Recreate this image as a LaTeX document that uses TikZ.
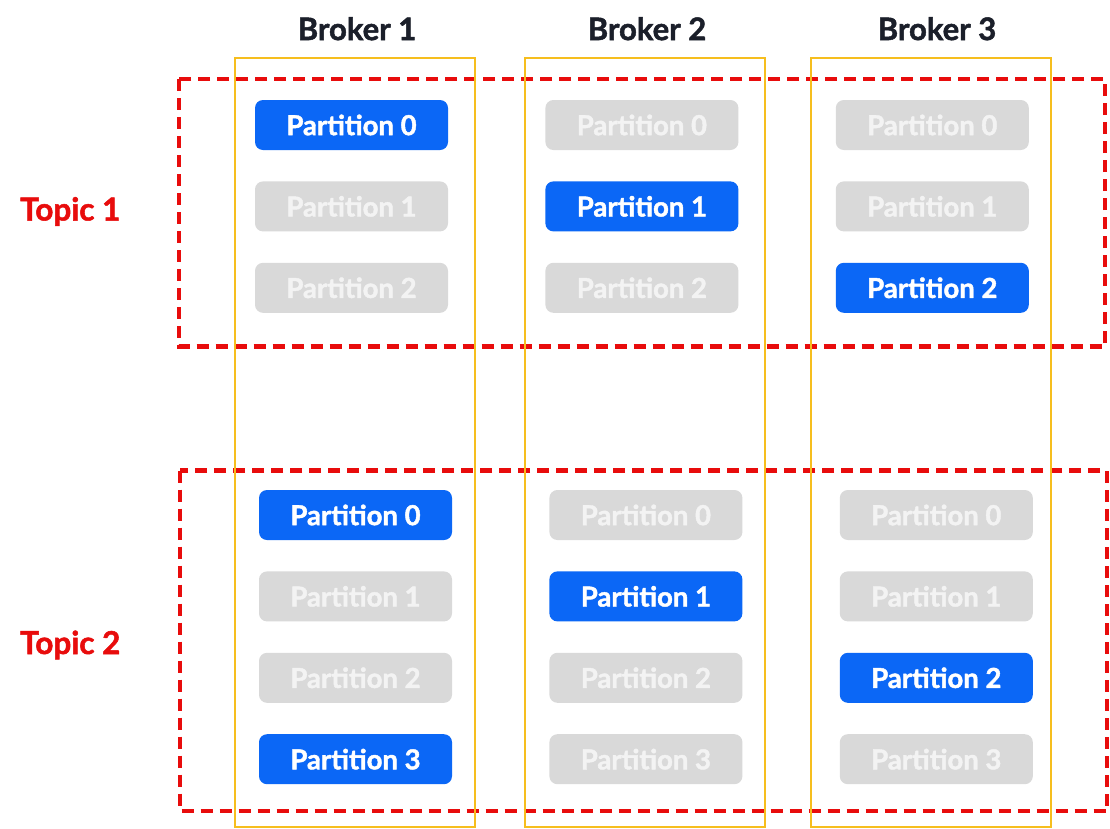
\documentclass[tikz,border=0pt]{standalone}
\usepackage{fontspec}
\setmainfont{Lato}[BoldFeatures={FakeBold=1.6}]
\usepackage{tikz}
\usetikzlibrary{positioning}

\definecolor{leadblue}{RGB}{11,103,246}
\definecolor{idlegrey}{RGB}{217,217,217}
\definecolor{idletext}{RGB}{243,243,243}
\definecolor{topicred}{RGB}{232,12,12}
\definecolor{brokeryellow}{RGB}{246,190,30}
\definecolor{titledark}{RGB}{27,31,42}

\begin{document}
\begin{tikzpicture}[x=1pt,y=-1pt,node distance=31pt and 97pt,
  part/.style={rounded corners=8pt,minimum width=193pt,minimum height=50pt,
    inner sep=0pt,font=\bfseries\fontsize{27.5}{27.5}\selectfont},
  lead/.style={part,fill=leadblue,text=white},
  idle/.style={part,fill=idlegrey,text=idletext},
  broker/.style={draw=brokeryellow,line width=2pt,minimum width=240pt,
    minimum height=769pt,inner sep=0pt},
  topicbox/.style={draw=topicred,line width=4.5pt,dash pattern=on 12pt off 7pt},
  brokertitle/.style={inner sep=0pt,text=titledark,
    font=\bfseries\fontsize{31}{31}\selectfont},
  topictitle/.style={inner sep=0pt,anchor=base west,text=topicred,
    font=\bfseries\fontsize{31.5}{31.5}\selectfont}]
  \useasboundingbox[fill=white] (0,0) rectangle (1110,828);

  % topics
  \draw[topicbox] (179,79) rectangle (1105,346.5);
  \draw[topicbox] (180,470.5) rectangle (1107,811);
  \node[topictitle] (topic1) at (20,220.5) {Topic 1};
  \node[topictitle] (topic2) at (20,654) {Topic 2};

  % brokers
  \node[broker] (broker1) at (355,442) {};
  \node[broker] (broker2) at (645,442) {};
  \node[broker] (broker3) at (931,442) {};
  \node[brokertitle,above=16pt of broker1,xshift=2pt] (title1) {Broker 1};
  \node[brokertitle,above=16pt of broker2,xshift=2pt] (title2) {Broker 2};
  \node[brokertitle,above=16pt of broker3,xshift=6pt] (title3) {Broker 3};

  % topic 1 partitions
  \node[lead] (a10) at (351.5,125) {Partition 0};
  \node[idle,below=of a10] (a11) {Partition 1};
  \node[idle,below=of a11] (a12) {Partition 2};
  \node[idle,right=of a10] (a20) {Partition 0};
  \node[lead,below=of a20] (a21) {Partition 1};
  \node[idle,below=of a21] (a22) {Partition 2};
  \node[idle,right=of a20] (a30) {Partition 0};
  \node[idle,below=of a30] (a31) {Partition 1};
  \node[lead,below=of a31] (a32) {Partition 2};

  % topic 2 partitions
  \node[lead] (b10) at (355.5,515) {Partition 0};
  \node[idle,below=of b10] (b11) {Partition 1};
  \node[idle,below=of b11] (b12) {Partition 2};
  \node[lead,below=of b12] (b13) {Partition 3};
  \node[idle,right=of b10] (b20) {Partition 0};
  \node[lead,below=of b20] (b21) {Partition 1};
  \node[idle,below=of b21] (b22) {Partition 2};
  \node[idle,below=of b22] (b23) {Partition 3};
  \node[idle,right=of b20] (b30) {Partition 0};
  \node[idle,below=of b30] (b31) {Partition 1};
  \node[lead,below=of b31] (b32) {Partition 2};
  \node[idle,below=of b32] (b33) {Partition 3};
\end{tikzpicture}
\end{document}
